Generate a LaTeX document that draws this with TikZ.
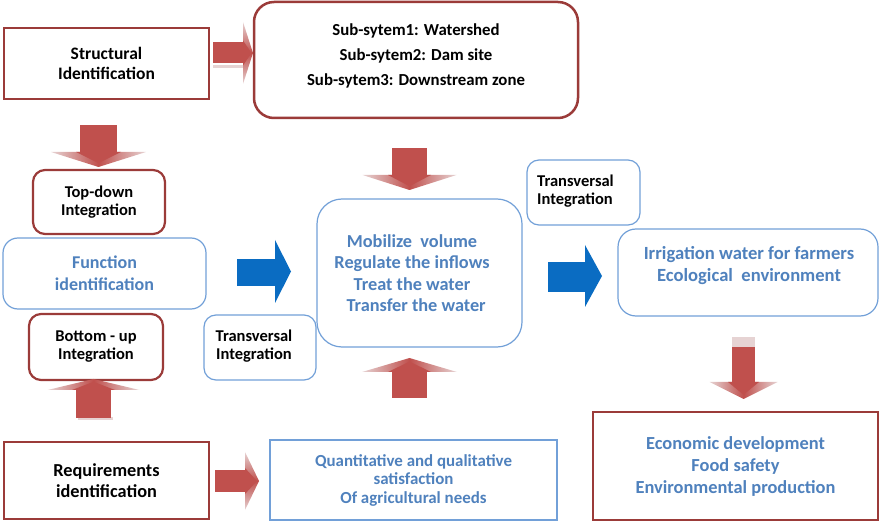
\documentclass[tikz,border=0pt]{standalone}
\usepackage{fontspec}
\setmainfont{Carlito}
\definecolor{dred}{HTML}{9B3B39}
\definecolor{rfill}{HTML}{C0504D}
\definecolor{pale}{HTML}{E6D3D3}
\definecolor{bbord}{HTML}{72A0D8}
\definecolor{btext}{HTML}{4F81BD}
\definecolor{barrow}{HTML}{0A6CC2}
\tikzset{
  boxbase/.style={inner sep=0pt, align=center, fill=white},
  redbox/.style={boxbase, draw=dred, line width=2.2pt},
  redround/.style={redbox, rounded corners=12pt},
  bluebox/.style={boxbase, draw=bbord, line width=1.2pt, rounded corners=14pt, text=btext},
  bluesharp/.style={boxbase, draw=bbord, line width=1.2pt, text=btext},
  txt/.style={inner sep=0pt, align=center},
}
\newcommand\fz[2]{\bfseries\fontsize{#1}{#2}\selectfont}
% vertical red arrow: xc, y body start, y head base, y tip, half body, half head
\newcommand\redV[6]{%
  \shade[left color=pale, right color=pale, middle color=rfill] (#1-#6,#3) -- (#1,#4) -- (#1+#6,#3) -- cycle;
  \fill[rfill] (#1-#5,#2) rectangle (#1+#5,#3);
  \fill[rfill] (#1-#5-4,#3) -- (#1,{#4-0.25*(#4-#3)}) -- (#1+#5+4,#3) -- cycle;
}
% horizontal red arrow: yc, x body start, x head base, x tip, half body, half head
\newcommand\redH[6]{%
  \shade[top color=pale, bottom color=pale, middle color=rfill] (#3,#1-#6) -- (#4,#1) -- (#3,#1+#6) -- cycle;
  \fill[rfill] (#2,#1-#5) rectangle (#3,#1+#5);
  \fill[rfill] (#3,#1-#5-2) -- ({#4-0.15*(#4-#3)},#1) -- (#3,#1+#5+2) -- cycle;
}
% blue arrow: yc body, x start, x head base, x tip, half body, yc head, half head
\newcommand\blueH[7]{%
  \fill[barrow] (#2,#1-#5) rectangle (#3+0.5,#1+#5);
  \fill[barrow] (#3,#6-#7) -- (#4,#6) -- (#3,#6+#7) -- cycle;
}
\begin{document}
\begin{tikzpicture}[x=1pt,y=-1pt]
\useasboundingbox (0,0) rectangle (879,521);

% ---------- boxes ----------
\node[redbox, minimum width=205, minimum height=71, font=\fz{17.5}{20}] (struct) at (106.5,63.5) {Structural\\Identification};
\node[redbox, rounded corners=20pt, line width=2.5pt, minimum width=324, minimum height=116] (subsys) at (416,60) {};
\node[txt, font=\fz{16.8}{25}] (subsystxt) at (416,56) {Sub-sytem1: Watershed\\Sub-sytem2: Dam site\\Sub-sytem3: Downstream zone};

\node[redround, minimum width=132, minimum height=64, font=\fz{16.5}{18}] (topdown) at (99,202) {Top-down\\Integration};
\node[bluebox, rounded corners=15pt, minimum width=203, minimum height=71, font=\fz{18}{22}] (func) at (104.5,273.5) {Function\\identification};
\node[redround, minimum width=134, minimum height=66, font=\fz{16.5}{18}] (bottomup) at (96,347) {Bottom - up\\Integration};
\node[bluebox, rounded corners=12pt, minimum width=112, minimum height=65] (transL) at (260,347.5) {};
\node[txt, font=\fz{16.5}{18}] (transLtxt) at (254,346) {Transversal\\Integration};

\node[bluebox, rounded corners=25pt, minimum width=205, minimum height=148] (central) at (419.5,273) {};
\node[txt, text=btext, font=\fz{18.3}{21.5}] (centraltxt) at (412,273) {Mobilize\ \ volume\\Regulate\ the\ inflows\\Treat the water\\\ \ Transfer the water};

\node[bluebox, rounded corners=12pt, minimum width=113, minimum height=65] (transR) at (583.5,192.5) {};
\node[txt, align=left, anchor=west, font=\fz{16.5}{18}] (transRtxt) at (537,191) {Transversal\\Integration};

\node[bluebox, rounded corners=18pt, minimum width=260, minimum height=87] (irrig) at (748,272.5) {};
\node[txt, text=btext, font=\fz{18.6}{22}] (irrigtxt) at (749,266) {Irrigation water for farmers\\Ecological\ \ environment};

\node[redbox, minimum width=285, minimum height=108, text=btext, font=\fz{18.4}{22}] (econ) at (735.5,466) {Economic development\\Food safety\\Environmental production};
\node[redbox, minimum width=205, minimum height=77, font=\fz{18.3}{21}] (req) at (106.5,480.5) {Requirements\\identification};
\node[bluesharp, minimum width=287, minimum height=80, font=\fz{16.9}{18.5}] (quant) at (413.5,480) {Quantitative and qualitative\\satisfaction\\Of agricultural needs};

% ---------- block arrows ----------
\fill[pale] (213,65) rectangle (243,68);
\redH{53}{213}{243}{253}{10.5}{31}
\redH{481}{215}{245}{259}{11}{29}
\redV{98.5}{125}{152}{167}{18.5}{47.5}
\redV{409.5}{148}{175}{190}{17.5}{47}
\redV{409.5}{398}{372}{358}{17.5}{47.5}
\fill[pale] (732,337) rectangle (755,347);
\redV{743.5}{347}{382}{399}{11.5}{34}
\fill[pale] (78,417) rectangle (113,420);
\redV{93.5}{418}{390}{379}{17.5}{46}

\blueH{272.5}{237}{275}{291}{13.5}{271.5}{31.5}
\blueH{277}{548}{585}{602}{15}{276}{31}
\end{tikzpicture}
\end{document}
